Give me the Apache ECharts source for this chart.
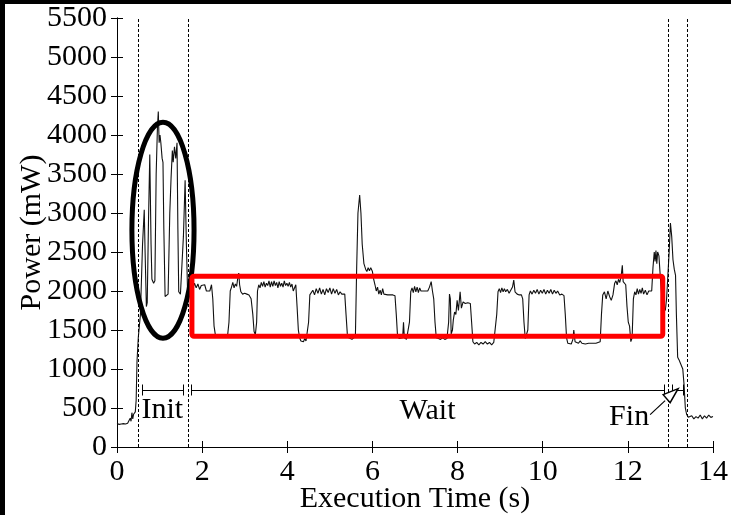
<!DOCTYPE html>
<html>
<head>
<meta charset="utf-8">
<script src="https://cdn.jsdelivr.net/npm/echarts@6/dist/echarts.min.js"></script>
<style>
html,body{margin:0;padding:0;background:#fff;}
#c{width:731px;height:515px;}
</style>
</head>
<body>
<div id="c"></div>
<script>
// ---- data (time in s, power in mW) ----
const xTicks = [0, 2, 4, 6, 8, 10, 12, 14];
const yTicks = [0, 500, 1000, 1500, 2000, 2500, 3000, 3500, 4000, 4500, 5000, 5500];

const preTrace = [[0,300],[0.05,290],[0.1,295],[0.15,300],[0.2,295],[0.25,305],[0.28,330],[0.31,370],[0.33,330],[0.35,440],[0.37,360],[0.39,420],[0.41,400],[0.43,450],[0.45,600],[0.47,1100],[0.5,1400],[0.52,1380]];

const initTrace = [[0.55,1700],[0.6,2600],[0.64,3040],[0.66,2500],[0.69,1800],[0.71,1850],[0.74,2900],[0.77,3750],[0.8,2600],[0.82,2150],[0.86,2100],[0.89,2130],[0.92,3500],[0.95,4100],[0.97,4300],[0.99,3900],[1.01,4000],[1.03,3900],[1.06,3700],[1.08,3650],[1.1,2800],[1.13,1930],[1.17,1920],[1.2,1960],[1.24,3000],[1.27,3450],[1.3,3800],[1.32,3650],[1.35,3850],[1.38,3700],[1.41,3900],[1.43,2800],[1.45,1990],[1.49,1960],[1.52,1980],[1.56,2700],[1.6,3420],[1.63,2600],[1.66,1950],[1.7,2050]];

const waitTrace = [[1.74,2080],[1.78,2030],[1.82,2100],[1.86,2040],[1.9,2090],[1.94,2020],[1.98,2070],[2.02,2050],[2.06,2080],[2.1,2000],[2.14,2010],[2.18,2000],[2.22,2080],[2.25,1900],[2.28,1550],[2.31,1440],[2.36,1430],[2.4,1450],[2.44,1420],[2.48,1440],[2.52,1430],[2.56,1450],[2.6,1440],[2.63,1600],[2.66,2000],[2.69,2050],[2.72,2110],[2.75,2040],[2.78,2090],[2.81,2060],[2.84,2180],[2.86,2230],[2.88,2080],[2.91,1990],[2.95,1960],[3.0,1970],[3.05,1960],[3.1,1950],[3.15,1900],[3.19,1700],[3.22,1480],[3.25,1440],[3.28,1600],[3.3,2000],[3.33,2080],[3.36,2040],[3.39,2110],[3.42,2060],[3.45,2120],[3.48,2050],[3.51,2100],[3.54,2070],[3.57,2130],[3.6,2050],[3.63,2120],[3.66,2060],[3.69,2130],[3.72,2070],[3.75,2110],[3.78,2040],[3.81,2120],[3.84,2060],[3.87,2100],[3.9,2050],[3.93,2130],[3.96,2070],[3.99,2100],[4.02,2060],[4.05,2110],[4.08,2050],[4.11,2090],[4.14,2000],[4.17,2020],[4.2,2080],[4.23,1800],[4.26,1500],[4.29,1400],[4.32,1360],[4.35,1380],[4.38,1350],[4.41,1390],[4.44,1360],[4.47,1380],[4.5,1600],[4.53,1950],[4.56,1960],[4.6,2010],[4.64,1950],[4.68,2030],[4.72,1970],[4.76,2040],[4.8,1960],[4.84,2020],[4.88,1950],[4.92,2030],[4.96,1980],[5.0,2040],[5.04,1960],[5.08,2030],[5.12,1970],[5.16,2020],[5.2,1950],[5.24,1990],[5.28,1960],[5.32,1980],[5.35,1960],[5.38,1700],[5.41,1450],[5.44,1400],[5.48,1420],[5.52,1380],[5.56,1400],[5.6,1420],[5.63,2300],[5.66,3000],[5.7,3230],[5.73,3000],[5.76,2600],[5.8,2350],[5.84,2280],[5.87,2250],[5.9,2300],[5.93,2260],[5.96,2300],[6.0,2250],[6.03,2150],[6.06,2080],[6.09,2000],[6.12,2050],[6.15,1960],[6.18,2010],[6.21,1950],[6.24,2030],[6.27,1960],[6.3,1950],[6.36,1950],[6.42,1950],[6.48,1950],[6.53,1940],[6.56,1700],[6.59,1420],[6.63,1390],[6.67,1380],[6.71,1400],[6.73,1600],[6.75,1400],[6.8,1380],[6.84,1390],[6.87,1600],[6.9,1990],[6.93,2040],[6.96,1980],[6.99,2060],[7.02,1990],[7.05,2050],[7.08,1980],[7.11,2040],[7.14,2000],[7.18,1990],[7.22,2000],[7.26,1990],[7.3,2000],[7.34,2050],[7.38,2120],[7.41,2000],[7.44,1900],[7.47,1600],[7.5,1400],[7.55,1390],[7.6,1380],[7.65,1400],[7.7,1380],[7.75,1390],[7.79,1600],[7.81,1960],[7.83,1900],[7.85,1450],[7.88,1500],[7.9,1630],[7.93,1730],[7.96,1700],[7.99,1880],[8.02,1750],[8.06,1990],[8.09,1780],[8.13,1860],[8.18,1840],[8.24,1850],[8.3,1840],[8.33,1600],[8.36,1350],[8.4,1320],[8.45,1340],[8.5,1310],[8.55,1340],[8.6,1320],[8.65,1350],[8.7,1320],[8.75,1340],[8.8,1310],[8.85,1340],[8.89,1330],[8.92,1700],[8.95,1990],[8.98,2030],[9.01,1980],[9.04,2040],[9.07,1990],[9.1,2030],[9.13,1990],[9.17,2020],[9.21,1970],[9.25,1980],[9.29,2050],[9.32,2140],[9.35,1990],[9.4,1960],[9.45,1950],[9.5,1950],[9.53,1900],[9.56,1600],[9.59,1390],[9.62,1380],[9.65,1500],[9.68,1950],[9.71,2000],[9.75,1960],[9.79,2010],[9.83,1970],[9.87,2020],[9.91,1960],[9.95,2010],[9.99,1970],[10.03,2020],[10.07,1960],[10.11,2010],[10.15,1970],[10.19,2020],[10.23,1960],[10.27,2010],[10.31,1970],[10.35,2000],[10.4,1950],[10.45,1960],[10.5,1940],[10.53,1700],[10.56,1400],[10.59,1330],[10.63,1340],[10.67,1320],[10.71,1380],[10.73,1500],[10.76,1350],[10.8,1340],[10.84,1330],[10.88,1360],[10.92,1330],[10.96,1350],[11.0,1320],[11.04,1340],[11.08,1330],[11.12,1350],[11.16,1330],[11.2,1340],[11.25,1330],[11.3,1340],[11.35,1350],[11.38,1700],[11.41,1950],[11.45,1990],[11.49,1900],[11.53,2000],[11.57,1930],[11.61,1880],[11.65,1950],[11.69,2100],[11.72,2130],[11.75,2080],[11.78,2150],[11.81,2110],[11.84,2180],[11.87,2330],[11.89,2120],[11.92,2100],[11.95,2080],[11.98,1800],[12.01,1600],[12.04,1550],[12.07,1350],[12.1,1400],[12.13,1900],[12.16,1990],[12.19,1950],[12.22,2030],[12.25,1960],[12.28,2020],[12.31,1970],[12.34,2040],[12.37,1960],[12.41,2010],[12.45,1950],[12.49,2000],[12.53,1980],[12.56,2000],[12.59,2300],[12.62,2500],[12.64,2380],[12.66,2520],[12.68,2350],[12.7,2500],[12.73,2450],[12.76,2200],[12.8,1900],[12.84,1800],[12.88,1750]];

const finTrace = [[12.91,1900],[12.94,2200],[12.97,2500],[13.0,2870],[13.03,2700],[13.06,2400],[13.09,2280],[13.12,2200],[13.14,1700],[13.17,1150],[13.2,1120],[13.23,1080],[13.26,1100],[13.29,1000],[13.32,800],[13.35,500],[13.38,420],[13.42,380],[13.46,370],[13.5,400],[13.55,360],[13.6,390],[13.65,370],[13.7,410],[13.75,360],[13.8,400],[13.85,370],[13.9,410],[13.95,380],[14.0,390]];

const phaseNames = ['Init', 'Wait', 'Fin'];
const phaseStarts = [0.58, 1.74, 13.04];
const phaseEnds = [1.55, 12.85, 13.29];
const phaseBoundaries = [0.49, 1.67, 12.94, 13.39];

// ---- chart ----
const FONT = '"Liberation Serif", "DejaVu Serif", serif';
const chart = echarts.init(document.getElementById('c'), null, {renderer: 'canvas'});
const trace = preTrace.concat(initTrace, waitTrace, finTrace);

const axisCommon = {
  axisLine: {show: true, lineStyle: {color: '#000', width: 1}},
  axisTick: {show: true, inside: true, length: 6, lineStyle: {color: '#000', width: 1}},
  splitLine: {show: false}
};

chart.setOption({
  animation: false,
  backgroundColor: '#fff',
  grid: {left: 117, right: 18, top: 18, bottom: 68, containLabel: false, outerBoundsMode: 'none'},
  xAxis: [
    Object.assign({
      type: 'value', min: 0, max: 14, interval: 2, position: 'bottom',
      name: 'Execution Time (s)', nameLocation: 'middle', nameGap: 37, nameMoveOverlap: false,
      nameTextStyle: {fontFamily: FONT, fontSize: 30, color: '#000'},
      axisLabel: {fontFamily: FONT, fontSize: 30, color: '#000', margin: 10, formatter: v => String(v)}
    }, axisCommon),
    Object.assign({
      type: 'value', min: 0, max: 14, interval: 2, position: 'top',
      axisLabel: {show: false}
    }, axisCommon)
  ],
  yAxis: [
    Object.assign({
      type: 'value', min: 0, max: 5500, interval: 500, position: 'left',
      name: 'Power (mW)', nameLocation: 'middle', nameGap: 70, nameMoveOverlap: false,
      nameTextStyle: {fontFamily: FONT, fontSize: 30, color: '#000'},
      axisLabel: {fontFamily: FONT, fontSize: 30, color: '#000', margin: 10, formatter: v => String(v)}
    }, axisCommon),
    Object.assign({
      type: 'value', min: 0, max: 5500, interval: 500, position: 'right',
      axisLabel: {show: false}
    }, axisCommon)
  ],
  series: [{
    type: 'line',
    xAxisIndex: 0, yAxisIndex: 0,
    data: trace,
    showSymbol: false,
    symbol: 'none',
    lineStyle: {color: '#111', width: 1.1},
    markLine: {
      silent: true,
      symbol: ['none', 'none'],
      label: {show: false},
      lineStyle: {color: '#000', width: 1, type: [3, 2]},
      data: phaseBoundaries.map(v => ({xAxis: v}))
    },
    z: 3
  }]
});

function px(x, y) { return chart.convertToPixel({xAxisIndex: 0, yAxisIndex: 0}, [x, y]); }

const g = [];
// black frame edges
g.push({type: 'rect', shape: {x: 0, y: 0, width: 731, height: 4}, style: {fill: '#000'}, z: 100});
g.push({type: 'rect', shape: {x: 0, y: 0, width: 5, height: 515}, style: {fill: '#000'}, z: 100});

// phase brackets
const bracketY = 735;
phaseNames.forEach((name, i) => {
  const a = px(phaseStarts[i], bracketY), b = px(phaseEnds[i], bracketY);
  const yy = Math.round(a[1]) + 0.5;
  const xa = Math.round(a[0]) + 0.5, xb = Math.round(b[0]) + 0.5;
  const st = {stroke: '#000', lineWidth: 1};
  g.push({type: 'line', shape: {x1: xa, y1: yy, x2: xb, y2: yy}, style: st, z: 10});
  g.push({type: 'line', shape: {x1: xa, y1: yy - 6, x2: xa, y2: yy + 5}, style: st, z: 10});
  g.push({type: 'line', shape: {x1: xb, y1: yy - 6, x2: xb, y2: yy + 5}, style: st, z: 10});
});
// labels
const initC = px((phaseStarts[0] + phaseEnds[0]) / 2, bracketY);
g.push({type: 'text', x: initC[0], y: initC[1] + 20, style: {text: 'Init', font: '30px ' + FONT, fill: '#000', align: 'center', verticalAlign: 'middle'}, z: 10});
const waitC = px((phaseStarts[1] + phaseEnds[1]) / 2, bracketY);
g.push({type: 'text', x: waitC[0], y: waitC[1] + 21, style: {text: 'Wait', font: '30px ' + FONT, fill: '#000', align: 'center', verticalAlign: 'middle'}, z: 10});
const finB = px(phaseStarts[2], bracketY);
g.push({type: 'text', x: finB[0] - 43, y: finB[1] + 27, style: {text: 'Fin', font: '30px ' + FONT, fill: '#000', align: 'center', verticalAlign: 'middle'}, z: 10});
// Fin arrow
g.push({type: 'line', shape: {x1: finB[0] - 22, y1: finB[1] + 25, x2: finB[0] - 7, y2: finB[1] + 11}, style: {stroke: '#000', lineWidth: 1.2}, z: 10});
g.push({type: 'polygon', shape: {points: [[finB[0] - 9, finB[1] + 5], [finB[0] + 6, finB[1] - 1], [finB[0] - 2, finB[1] + 13]]}, style: {fill: '#fff', stroke: '#000', lineWidth: 1.5}, z: 11});

// highlight ellipse around Init
const eC = px(1.08, 2780), eR = px(1.08 + 0.73, 2780 + 1385);
g.push({type: 'ellipse', shape: {cx: eC[0], cy: eC[1], rx: eR[0] - eC[0], ry: eC[1] - eR[1]}, style: {fill: null, stroke: '#000', lineWidth: 5}, z: 20});

// red rectangle around Wait plateaus
const r1 = px(1.76, 2190), r2 = px(12.82, 1420);
g.push({type: 'rect', shape: {x: r1[0], y: r1[1], width: r2[0] - r1[0], height: r2[1] - r1[1], r: 2}, style: {fill: null, stroke: '#ff0000', lineWidth: 5}, z: 20});

chart.setOption({graphic: {elements: g}});
</script>
</body>
</html>
